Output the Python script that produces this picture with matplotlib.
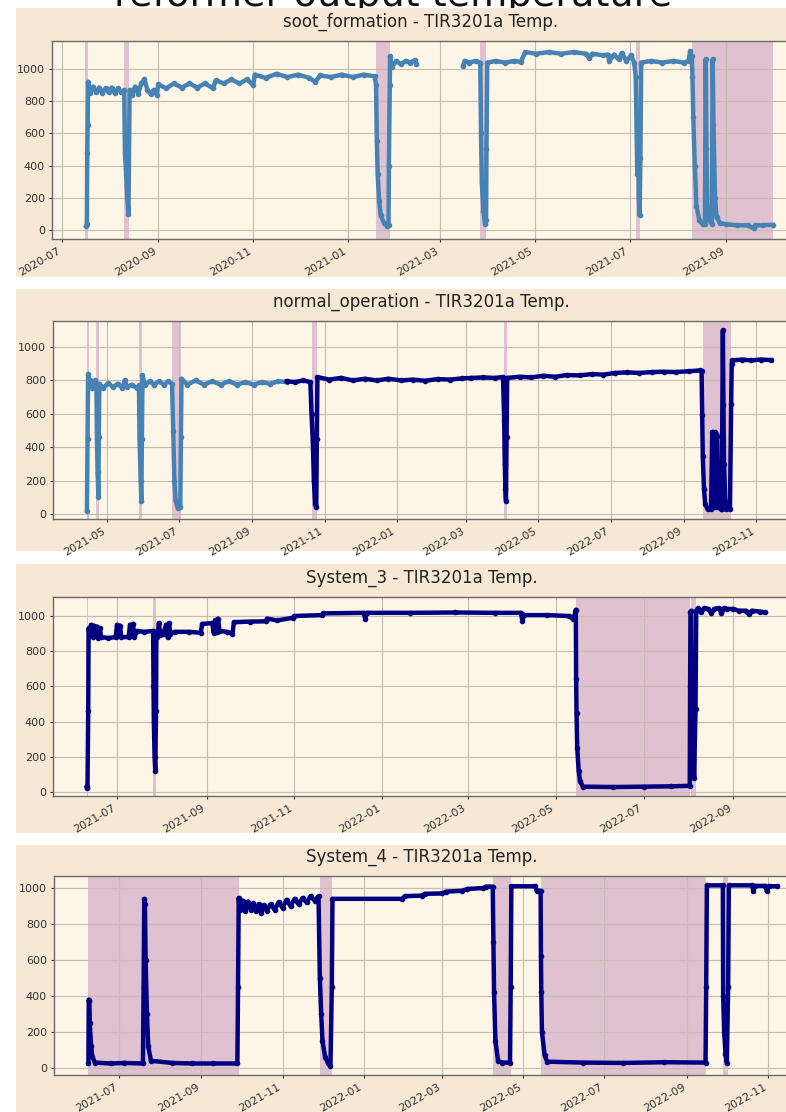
import numpy as np
import pandas as pd
import matplotlib
matplotlib.use('Agg')
import matplotlib.pyplot as plt
import matplotlib.dates as mdates
from matplotlib.patches import Rectangle

nan = np.nan

# ---- soot_formation ----
soot_t = ["2020-07-16 12:00", "2020-07-17", "2020-07-17 06:00", "2020-07-17 12:00", "2020-07-17 18:00",
          "2020-07-19", "2020-07-21", "2020-07-23", "2020-07-25", "2020-07-27", "2020-07-29", "2020-07-31",
          "2020-08-02", "2020-08-04", "2020-08-06", "2020-08-08", "2020-08-10", "2020-08-10 12:00",
          "2020-08-11 06:00", "2020-08-12", "2020-08-12 18:00", "2020-08-13 12:00", "2020-08-15", "2020-08-17",
          "2020-08-19", "2020-08-21", "2020-08-23", "2020-08-25", "2020-08-27", "2020-08-29", "2020-08-31",
          "2020-09-01", "2020-09-06", "2020-09-11", "2020-09-16", "2020-09-21", "2020-09-26", "2020-10-01",
          "2020-10-06", "2020-10-08", "2020-10-13", "2020-10-18", "2020-10-23", "2020-10-28", "2020-11-01",
          "2020-11-02", "2020-11-09", "2020-11-16", "2020-11-23", "2020-11-30", "2020-12-07", "2020-12-11",
          "2020-12-14", "2020-12-21", "2020-12-28", "2021-01-04", "2021-01-11", "2021-01-18", "2021-01-19",
          "2021-01-19 12:00", "2021-01-20", "2021-01-21", "2021-01-22", "2021-01-24", "2021-01-26", "2021-01-27",
          "2021-01-27 06:00", "2021-01-27 18:00", "2021-01-28", "2021-01-29", "2021-02-01", "2021-02-04",
          "2021-02-07", "2021-02-10", "2021-02-13", "2021-02-14", "2021-02-15", "2021-03-16", "2021-03-17",
          "2021-03-20", "2021-03-24", "2021-03-27", "2021-03-27 12:00", "2021-03-28", "2021-03-29", "2021-03-30",
          "2021-03-30 18:00", "2021-03-31", "2021-03-31 12:00", "2021-04-06", "2021-04-12", "2021-04-18",
          "2021-04-22", "2021-04-25", "2021-05-02", "2021-05-10", "2021-05-18", "2021-05-26", "2021-06-03",
          "2021-06-05", "2021-06-07", "2021-06-14", "2021-06-17", "2021-06-18", "2021-06-21", "2021-06-24",
          "2021-06-26", "2021-06-29", "2021-07-02", "2021-07-04", "2021-07-05", "2021-07-05 12:00", "2021-07-06",
          "2021-07-06 12:00", "2021-07-07", "2021-07-07 12:00", "2021-07-08", "2021-07-08 12:00", "2021-07-15",
          "2021-07-22", "2021-07-29", "2021-08-05", "2021-08-08", "2021-08-09", "2021-08-10", "2021-08-10 12:00",
          "2021-08-11", "2021-08-12", "2021-08-13", "2021-08-15", "2021-08-17", "2021-08-18 12:00", "2021-08-19",
          "2021-08-19 12:00", "2021-08-20", "2021-08-21", "2021-08-23", "2021-08-23 12:00", "2021-08-24",
          "2021-08-25", "2021-08-26", "2021-08-28", "2021-09-01", "2021-09-08", "2021-09-15", "2021-09-19",
          "2021-09-20", "2021-09-25", "2021-10-01"]
soot_v = [25, 35, 480, 650, 920,
          850, 890, 855, 885, 850, 880, 855,
          885, 850, 880, 855, 870, 480,
          350, 200, 100, 870, 840, 890,
          845, 910, 935, 870, 845, 870, 840,
          905, 880, 910, 885, 910, 885, 910,
          880, 930, 910, 935, 910, 935, 900,
          965, 945, 970, 950, 965, 945, 920,
          960, 950, 965, 950, 965, 955, 900,
          550, 350, 180, 90, 45, 25, 30,
          400, 900, 1080, 1010, 1050, 1030,
          1050, 1040, 1055, 1030, nan, 1020, 1050,
          1040, 1050, 1040, 600, 300, 120, 40,
          60, 500, 1040, 1050, 1040, 1050,
          1045, 1105, 1095, 1105, 1095, 1105, 1095,
          1070, 1095, 1085, 1090, 1050, 1090, 1060,
          1100, 1050, 1085, 1040, 950, 650, 350,
          600, 200, 90, 450, 1040, 1050,
          1040, 1050, 1040, 1050, 1110, 1080, 950,
          700, 400, 150, 60, 35, 40, 1060,
          500, 150, 60, 40, 1060, 650,
          200, 80, 45, 35, 30, 28, 10,
          28, 30, 32]
soot_spans = [("2020-07-16", "2020-07-18"), ("2020-08-10", "2020-08-13"), ("2021-01-19", "2021-01-28"),
              ("2021-03-27", "2021-03-31"), ("2021-07-05", "2021-07-08"), ("2021-08-10", "2021-10-01")]

# ---- normal_operation (two colours) ----
norm_a_t = ["2021-04-14", "2021-04-14 12:00", "2021-04-15", "2021-04-16", "2021-04-17", "2021-04-18",
            "2021-04-19", "2021-04-20", "2021-04-21", "2021-04-22", "2021-04-22 12:00", "2021-04-23",
            "2021-04-23 18:00", "2021-04-24", "2021-04-24 12:00", "2021-04-28", "2021-05-02", "2021-05-06",
            "2021-05-10", "2021-05-14", "2021-05-16", "2021-05-18", "2021-05-22", "2021-05-26", "2021-05-28",
            "2021-05-28 12:00", "2021-05-29 12:00", "2021-05-30", "2021-05-30 12:00", "2021-05-31", "2021-06-02",
            "2021-06-06", "2021-06-10", "2021-06-14", "2021-06-18", "2021-06-22", "2021-06-25", "2021-06-26",
            "2021-06-27", "2021-06-28", "2021-06-30", "2021-07-02", "2021-07-02 12:00", "2021-07-03",
            "2021-07-08", "2021-07-15", "2021-07-22", "2021-07-29", "2021-08-05", "2021-08-12", "2021-08-19",
            "2021-08-26", "2021-09-02", "2021-09-09", "2021-09-16", "2021-09-23", "2021-09-30"]
norm_a_v = [20, 450, 840, 760, 800, 755,
            790, 760, 800, 770, 450, 250,
            100, 460, 780, 755, 785, 760,
            780, 755, 800, 760, 775, 755, 770,
            450, 200, 80, 450, 830, 770,
            795, 775, 795, 775, 795, 780, 500,
            200, 80, 35, 40, 460, 810,
            775, 800, 775, 795, 775, 795, 775,
            790, 775, 790, 780, 795, 790]
norm_b_t = ["2021-09-30", "2021-10-07", "2021-10-14", "2021-10-20", "2021-10-21", "2021-10-22", "2021-10-23",
            "2021-10-24", "2021-10-25", "2021-10-25 12:00", "2021-10-26", "2021-11-05", "2021-11-15",
            "2021-11-25", "2021-12-05", "2021-12-15", "2021-12-25", "2022-01-05", "2022-01-15", "2022-01-25",
            "2022-02-05", "2022-02-15", "2022-02-25", "2022-03-05", "2022-03-15", "2022-03-25", "2022-04-01",
            "2022-04-02", "2022-04-02 12:00", "2022-04-03", "2022-04-03 12:00", "2022-04-04", "2022-04-04 12:00",
            "2022-04-15", "2022-04-25", "2022-05-05", "2022-05-15", "2022-05-25", "2022-06-05", "2022-06-15",
            "2022-06-25", "2022-07-05", "2022-07-15", "2022-07-25", "2022-08-05", "2022-08-15", "2022-08-25",
            "2022-09-05", "2022-09-15", "2022-09-16", "2022-09-16 12:00", "2022-09-17", "2022-09-18",
            "2022-09-19", "2022-09-21", "2022-09-24", "2022-09-25", "2022-09-25 12:00", "2022-09-26",
            "2022-09-26 12:00", "2022-09-27", "2022-09-27 12:00", "2022-09-28", "2022-09-28 12:00", "2022-09-29",
            "2022-09-30", "2022-10-01", "2022-10-02", "2022-10-03", "2022-10-04", "2022-10-04 12:00",
            "2022-10-05", "2022-10-06", "2022-10-07", "2022-10-10", "2022-10-11", "2022-10-11 12:00",
            "2022-10-12", "2022-10-20", "2022-10-28", "2022-11-05", "2022-11-14"]
norm_b_v = [795, 790, 800, 790, 600, 450, 200,
            60, 40, 450, 820, 805, 815,
            800, 810, 800, 810, 800, 805, 798,
            808, 805, 812, 815, 818, 815, 820,
            560, 300, 150, 80, 460, 815,
            822, 818, 828, 822, 832, 830, 838,
            835, 845, 848, 845, 850, 852, 850,
            855, 860, 855, 590, 350, 150,
            60, 30, 30, 490, 60, 490,
            40, 490, 50, 480, 40, 470,
            150, 40, 30, 30, 1100, 650,
            300, 80, 30, 30, 660, 900,
            920, 925, 920, 925, 922]
norm_spans = [("2021-04-14", "2021-04-16"), ("2021-04-22", "2021-04-24"), ("2021-05-28", "2021-05-31"),
              ("2021-06-25", "2021-07-03"), ("2021-10-21", "2021-10-26"), ("2022-04-02", "2022-04-04"),
              ("2022-09-17", "2022-10-11")]

# ---- System_3 ----
sys3_t = ["2021-06-10", "2021-06-10 12:00", "2021-06-11", "2021-06-11 06:00", "2021-06-12", "2021-06-13",
          "2021-06-14", "2021-06-15", "2021-06-16", "2021-06-17", "2021-06-18", "2021-06-19", "2021-06-20",
          "2021-06-25", "2021-06-30", "2021-07-01", "2021-07-02", "2021-07-03", "2021-07-04", "2021-07-09",
          "2021-07-10", "2021-07-11", "2021-07-12", "2021-07-13", "2021-07-15", "2021-07-20", "2021-07-26",
          "2021-07-26 06:00", "2021-07-26 12:00", "2021-07-27", "2021-07-27 12:00", "2021-07-28",
          "2021-07-28 06:00", "2021-07-29", "2021-07-30", "2021-07-31", "2021-08-02", "2021-08-04",
          "2021-08-05", "2021-08-06", "2021-08-07", "2021-08-10", "2021-08-20", "2021-08-28", "2021-08-29",
          "2021-09-05", "2021-09-06", "2021-09-07", "2021-09-08", "2021-09-09", "2021-09-10", "2021-09-15",
          "2021-09-19", "2021-09-20", "2021-10-01", "2021-10-12", "2021-10-13", "2021-10-20", "2021-10-31",
          "2021-11-01", "2021-11-20", "2021-11-21", "2021-12-19", "2021-12-20", "2021-12-21", "2022-01-20",
          "2022-02-20", "2022-03-20", "2022-04-07", "2022-04-08", "2022-04-09", "2022-04-25", "2022-05-10",
          "2022-05-13", "2022-05-14", "2022-05-15", "2022-05-15 06:00", "2022-05-15 12:00", "2022-05-16",
          "2022-05-17", "2022-05-18", "2022-05-20", "2022-06-10", "2022-07-01", "2022-07-20", "2022-08-02",
          "2022-08-02 06:00", "2022-08-02 12:00", "2022-08-03", "2022-08-03 12:00", "2022-08-04",
          "2022-08-04 12:00", "2022-08-05", "2022-08-06", "2022-08-06 12:00", "2022-08-08", "2022-08-10",
          "2022-08-12", "2022-08-15", "2022-08-17", "2022-08-19", "2022-08-22", "2022-08-24", "2022-08-26",
          "2022-08-28", "2022-09-01", "2022-09-05", "2022-09-10", "2022-09-12", "2022-09-14", "2022-09-20",
          "2022-09-23"]
sys3_v = [30, 25, 460, 930, 900, 950,
          880, 945, 890, 940, 875, 930, 880,
          875, 880, 950, 900, 945, 880, 880,
          950, 890, 955, 880, 915, 910, 915,
          600, 400, 200, 120, 460,
          910, 880, 960, 890, 900, 950,
          880, 960, 900, 910, 910, 905, 955,
          960, 905, 975, 910, 985, 915, 910,
          900, 965, 968, 970, 985, 975, 990,
          1000, 1005, 1015, 1018, 985, 1018, 1018,
          1020, 1018, 1018, 970, 1005, 1005, 1000,
          985, 1000, 1035, 640, 450, 250,
          120, 60, 30, 28, 30, 32, 35,
          600, 1020, 1030, 450, 100,
          480, 80, 470, 1030, 1045, 1020,
          1045, 1040, 1015, 1040, 1045, 1015, 1045,
          1040, 1040, 1030, 1030, 1010, 1030, 1025,
          1020]
sys3_spans = [("2021-06-10", "2021-06-11"), ("2021-07-26", "2021-07-28"), ("2022-05-15", "2022-08-02"),
              ("2022-08-03", "2022-08-06")]

# ---- System_4 ----
sys4_t = ["2021-06-08", "2021-06-08 06:00", "2021-06-08 18:00", "2021-06-09", "2021-06-10", "2021-06-11",
          "2021-06-13", "2021-06-25", "2021-07-05", "2021-07-19", "2021-07-19 12:00", "2021-07-20",
          "2021-07-20 12:00", "2021-07-21", "2021-07-22", "2021-07-23", "2021-07-25", "2021-08-10",
          "2021-08-25", "2021-09-10", "2021-09-28", "2021-09-28 12:00", "2021-09-29", "2021-09-30",
          "2021-10-02", "2021-10-04", "2021-10-06", "2021-10-08", "2021-10-10", "2021-10-12", "2021-10-14",
          "2021-10-16", "2021-10-18", "2021-10-20", "2021-10-23", "2021-10-26", "2021-10-29", "2021-11-01",
          "2021-11-04", "2021-11-07", "2021-11-10", "2021-11-13", "2021-11-16", "2021-11-19", "2021-11-22",
          "2021-11-25", "2021-11-28", "2021-11-29", "2021-11-30", "2021-12-01", "2021-12-03", "2021-12-05",
          "2021-12-07", "2021-12-08", "2021-12-08 12:00", "2022-01-30", "2022-02-01", "2022-02-14",
          "2022-02-16", "2022-03-01", "2022-03-04", "2022-03-16", "2022-03-20", "2022-04-01", "2022-04-03",
          "2022-04-08", "2022-04-08 12:00", "2022-04-09", "2022-04-10", "2022-04-12", "2022-04-15",
          "2022-04-21", "2022-04-21 12:00", "2022-04-22", "2022-05-10", "2022-05-11", "2022-05-14",
          "2022-05-14 06:00", "2022-05-14 12:00", "2022-05-15", "2022-05-17", "2022-05-19", "2022-06-15",
          "2022-07-15", "2022-08-15", "2022-09-15", "2022-09-15 12:00", "2022-09-16", "2022-09-28",
          "2022-09-28 06:00", "2022-09-29", "2022-09-30", "2022-10-01", "2022-10-02", "2022-10-02 12:00",
          "2022-10-20", "2022-10-21", "2022-10-22", "2022-10-30", "2022-10-31", "2022-11-02", "2022-11-08"]
sys4_v = [25, 380, 370, 250, 120, 60,
          30, 25, 28, 25, 450, 940,
          910, 600, 300, 120, 40, 28,
          25, 25, 25, 450, 945, 880,
          930, 870, 925, 880, 915, 870, 910,
          860, 905, 875, 910, 880, 920, 890,
          935, 900, 940, 910, 945, 920, 955,
          930, 955, 500, 300, 150, 60, 30,
          10, 450, 940, 940, 955, 958,
          968, 970, 980, 985, 995, 1000, 1008,
          1008, 700, 420, 150, 40, 30,
          30, 450, 1010, 1010, 985, 985,
          620, 420, 200, 70, 35, 30,
          28, 32, 30, 450, 1015, 1015,
          400, 200, 80, 30, 450, 1015,
          1015, 985, 1012, 1012, 985, 1010, 1010]
sys4_spans = [("2021-06-08", "2021-09-29"), ("2021-11-29", "2021-12-08"), ("2022-04-08", "2022-04-22"),
              ("2022-05-14", "2022-09-15"), ("2022-09-28", "2022-10-02")]

W, H = 786, 1112
steel = '#4682B4'
navy = '#000080'
span_col = '#dfc1cf'
panel_col = '#f6e8d5'
axes_col = '#fdf5e6'

def box(l, t, r, b):
    return [l / W, 1 - b / H, (r - l) / W, (b - t) / H]

fig = plt.figure(figsize=(W / 100, H / 100), dpi=100, facecolor='white')

# tan background behind each panel (drawn over the clipped suptitle, under the axes)
for t, b in [(7.5, 277), (289, 551), (564, 833), (845, 1112)]:
    fig.add_artist(Rectangle((16 / W, 1 - b / H), (W - 16) / W, (b - t) / H,
                             transform=fig.transFigure, facecolor=panel_col, edgecolor='none', zorder=-1))

fig.text(0.5, 1 - 6 / H, 'reformer output temperature', ha='center', va='baseline',
         fontsize=27.5, color='#111111', zorder=-2)

panels = [
    ("soot_formation - TIR3201a Temp.", (52, 41, 790, 239), ("2020-06-24 14:00", "2021-10-12 05:00"), (-56, 1174),
     [(soot_t, soot_v, steel)], soot_spans),
    ("normal_operation - TIR3201a Temp.", (53, 321, 790, 519), ("2021-03-16 07:00", "2022-11-29 19:00"), (-30, 1156),
     [(norm_a_t, norm_a_v, steel), (norm_b_t, norm_b_v, navy)], norm_spans),
    ("System_3 - TIR3201a Temp.", (53, 597, 790, 796), ("2021-05-17 14:00", "2022-10-10 12:00"), (-23, 1108),
     [(sys3_t, sys3_v, navy)], sys3_spans),
    ("System_4 - TIR3201a Temp.", (54, 876, 790, 1075), ("2021-05-13 03:00", "2022-11-17 12:00"), (-39, 1067),
     [(sys4_t, sys4_v, navy)], sys4_spans),
]

for title, px, xl, yl, series, spans in panels:
    ax = fig.add_axes(box(*px))
    ax.set_facecolor(axes_col)
    for s, e in spans:
        ax.axvspan(pd.Timestamp(s), pd.Timestamp(e), color=span_col, lw=0, zorder=1)
    for ts, vs, c in series:
        ax.plot(pd.to_datetime(ts, format='mixed'), vs, '.-', color=c, lw=3.2, ms=6, zorder=3)
    ax.set_xlim(pd.Timestamp(xl[0]), pd.Timestamp(xl[1]))
    ax.set_ylim(*yl)
    ax.set_yticks([0, 200, 400, 600, 800, 1000])
    ax.xaxis.set_major_locator(mdates.MonthLocator(bymonth=[1, 3, 5, 7, 9, 11]))
    ax.xaxis.set_major_formatter(mdates.DateFormatter('%Y-%m'))
    ax.grid(True, color='#c5bdb3', lw=0.8)
    for lab in ax.get_xticklabels():
        lab.set_rotation(30)
        lab.set_ha('right')
    ax.tick_params(labelsize=8, colors='#333333', length=2.5, pad=2.5, width=0.8)
    for sp in ax.spines.values():
        sp.set_color('#6b6b6b')
        sp.set_linewidth(1.0)
    ax.set_title(title, fontsize=12, color='#222222', pad=10)

fig.savefig('out.png', dpi=100, facecolor='white')
